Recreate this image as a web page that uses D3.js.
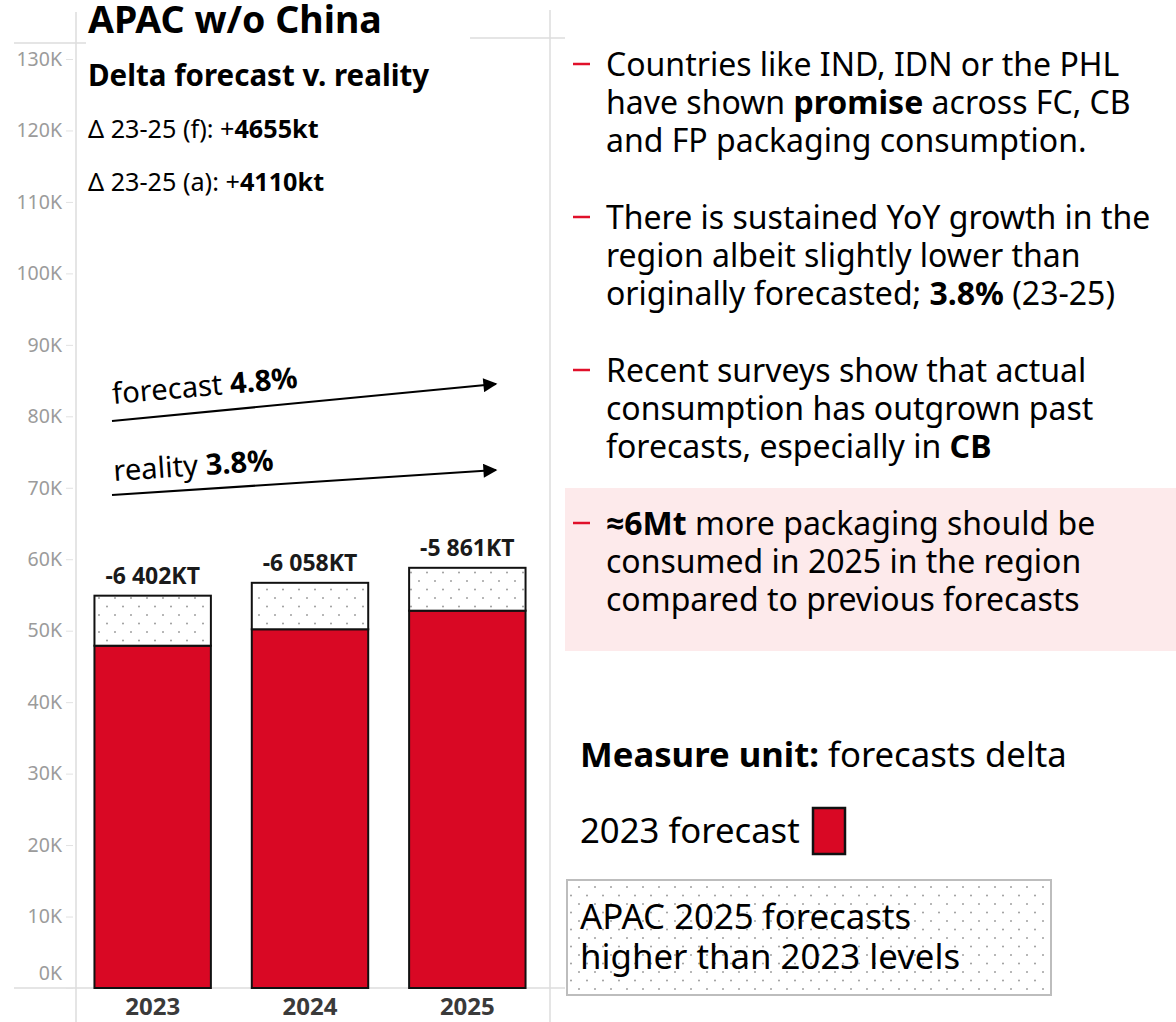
<!DOCTYPE html>
<html><head><meta charset="utf-8">
<script src="https://cdn.jsdelivr.net/npm/d3@7"></script>
<style>
body{margin:0;background:#fff}
svg{display:block}
text{font-family:"Noto Sans","Open Sans",sans-serif}
</style>
</head><body>
<svg id="chart" width="1176" height="1022"></svg>
<script>
// ---------- data ----------
const years = ["2023", "2024", "2025"];
const forecast2023 = [47900, 50200, 52800];          // red part (2023 forecast)
const higherThan2023 = [7000, 6500, 6000];           // dotted part (2025 forecasts above 2023)
const deltaLabels = ["-6 402KT", "-6 058KT", "-5 861KT"];
const yTickValues = [0,10000,20000,30000,40000,50000,60000,70000,80000,90000,100000,110000,120000,130000];
const yTickLabels = ["0K","10K","20K","30K","40K","50K","60K","70K","80K","90K","100K","110K","120K","130K"];
const growthNames = ["forecast", "reality"];
const growthRates = ["4.8%", "3.8%"];

const titleText = "APAC w/o China";
const subtitleText = "Delta forecast v. reality";
const deltaForecast = "4655kt";
const deltaActual = "4110kt";

const bullets = [
  [[["Countries like IND, IDN or the PHL",0]],
   [["have shown ",0],["promise",1],[" across FC, CB",0]],
   [["and FP packaging consumption.",0]]],
  [[["There is sustained YoY growth in the",0]],
   [["region albeit slightly lower than",0]],
   [["originally forecasted; ",0],["3.8%",1],[" (23-25)",0]]],
  [[["Recent surveys show that actual",0]],
   [["consumption has outgrown past",0]],
   [["forecasts, especially in ",0],["CB",1]]],
  [[["\u22486Mt",1],[" more packaging should be",0]],
   [["consumed in 2025 in the region",0]],
   [["compared to previous forecasts",0]]]
];

// ---------- setup ----------
const RED = "#d90824";
const svg = d3.select("#chart");
const defs = svg.append("defs");
const pat = defs.append("pattern").attr("id","dots").attr("patternUnits","userSpaceOnUse")
  .attr("width",16).attr("height",17);
pat.append("rect").attr("width",16).attr("height",17).attr("fill","#fff");
pat.append("circle").attr("cx",3).attr("cy",3).attr("r",0.95).attr("fill","#999");
pat.append("circle").attr("cx",11).attr("cy",11.5).attr("r",0.95).attr("fill","#999");

defs.append("marker").attr("id","arrow").attr("viewBox","0 0 10 10")
  .attr("refX",9).attr("refY",5).attr("markerWidth",7.5).attr("markerHeight",7)
  .attr("markerUnits","strokeWidth").attr("orient","auto")
  .append("path").attr("d","M0,0 L10,5 L0,10 Z").attr("fill","#000");

const x = d3.scaleBand().domain(years).range([74, 546]).paddingInner(0.26).paddingOuter(0.13);
const y = d3.scaleLinear().domain([0, 130000]).range([988, 59]);

// frame lines
const frame = svg.append("g").attr("stroke","#dcdcdc").attr("stroke-width",1.5);
frame.append("line").attr("x1",76).attr("x2",76).attr("y1",12).attr("y2",1022);
frame.append("line").attr("x1",550).attr("x2",550).attr("y1",10).attr("y2",1022);
frame.append("line").attr("x1",14).attr("x2",86).attr("y1",43).attr("y2",43);
frame.append("line").attr("x1",470).attr("x2",565).attr("y1",38).attr("y2",38);
frame.append("line").attr("x1",14).attr("x2",565).attr("y1",y(0)).attr("y2",y(0));

// y axis
const yAxis = d3.axisLeft(y).tickValues(yTickValues)
  .tickFormat((d,i)=>yTickLabels[i]).tickSize(7).tickPadding(4);
const ga = svg.append("g").attr("transform","translate(73,0)").call(yAxis);
ga.select(".domain").remove();
ga.selectAll(".tick line").attr("stroke","#e2e2e2");
ga.selectAll(".tick text").attr("fill","#9b9b9b").attr("font-size",19.5)
  .style("font-family","'Noto Sans',sans-serif")
  .attr("dy",(d)=> d===0 ? "-0.45em" : "0.32em");

// bars
const bars = svg.append("g");
bars.selectAll("rect.red").data(years).join("rect").attr("class","red")
  .attr("x",d=>x(d)).attr("width",x.bandwidth())
  .attr("y",(d,i)=>y(forecast2023[i])).attr("height",(d,i)=>y(0)-y(forecast2023[i]))
  .attr("fill",RED).attr("stroke","#111").attr("stroke-width",2);
bars.selectAll("rect.dot").data(years).join("rect").attr("class","dot")
  .attr("x",d=>x(d)).attr("width",x.bandwidth())
  .attr("y",(d,i)=>y(forecast2023[i]+higherThan2023[i]))
  .attr("height",(d,i)=>y(forecast2023[i])-y(forecast2023[i]+higherThan2023[i]))
  .attr("fill","url(#dots)").attr("stroke","#111").attr("stroke-width",2);
bars.selectAll("text.lab").data(years).join("text").attr("class","lab")
  .attr("x",d=>x(d)+x.bandwidth()/2)
  .attr("y",(d,i)=>y(forecast2023[i]+higherThan2023[i])-12)
  .attr("text-anchor","middle").attr("font-weight","bold").attr("font-size",23)
  .attr("fill","#1a1a1a").text((d,i)=>deltaLabels[i]);

// x axis labels
const xAxis = d3.axisBottom(x).tickSize(0).tickPadding(8);
const gx = svg.append("g").attr("transform",`translate(0,${y(0)})`).call(xAxis);
gx.select(".domain").remove();
gx.selectAll(".tick text").attr("font-size",24).attr("font-weight","bold")
  .attr("fill","#3a3a3a").attr("dy","0.78em").style("font-family","'Noto Sans',sans-serif");

// title block
svg.append("text").attr("x",88).attr("y",33).attr("font-size",37.5).attr("font-weight","bold")
  .attr("fill","#000").text(titleText);
svg.append("text").attr("x",88).attr("y",86).attr("font-size",29.5).attr("font-weight","bold")
  .attr("fill","#000").text(subtitleText);
const d1 = svg.append("text").attr("x",88).attr("y",138).attr("font-size",25.2).attr("fill","#000");
d1.append("tspan").text("\u0394 23-25 (f): +");
d1.append("tspan").attr("font-weight","bold").text(deltaForecast);
const d2 = svg.append("text").attr("x",88).attr("y",191).attr("font-size",25.2).attr("fill","#000");
d2.append("tspan").text("\u0394 23-25 (a): +");
d2.append("tspan").attr("font-weight","bold").text(deltaActual);

// growth arrows (annotations)
const arrows = [
  {x1:112,y1:421,x2:496,y2:384, tx:113, ty:404, ang:-5},
  {x1:112,y1:495,x2:496,y2:470, tx:114, ty:481, ang:-3.8}
];
arrows.forEach((a,i)=>{
  svg.append("line").attr("x1",a.x1).attr("y1",a.y1).attr("x2",a.x2).attr("y2",a.y2)
    .attr("stroke","#000").attr("stroke-width",2).attr("marker-end","url(#arrow)");
  const t = svg.append("text").attr("transform",`translate(${a.tx},${a.ty}) rotate(${a.ang})`)
    .attr("font-size",29.2).attr("fill","#000");
  t.append("tspan").text(growthNames[i] + " ");
  t.append("tspan").attr("font-weight","bold").text(growthRates[i]);
});

// right side: pink highlight box
svg.append("rect").attr("x",565).attr("y",488).attr("width",611).attr("height",163).attr("fill","#fdeaeb");

// bullets
const bulletTop = [76, 229, 382, 535];
bullets.forEach((b,bi)=>{
  svg.append("line").attr("x1",573).attr("x2",590).attr("y1",bulletTop[bi]-12).attr("y2",bulletTop[bi]-12)
    .attr("stroke","#e0102a").attr("stroke-width",2.5);
  b.forEach((line,li)=>{
    const t = svg.append("text").attr("x",606).attr("y",bulletTop[bi]+li*38)
      .attr("font-size",32).attr("fill","#000");
    line.forEach(seg=>{
      t.append("tspan").attr("font-weight",seg[1]?"bold":"normal").text(seg[0]);
    });
  });
});

// legend
const mu = svg.append("text").attr("x",580).attr("y",767).attr("font-size",34.7).attr("fill","#000");
mu.append("tspan").attr("font-weight","bold").text("Measure unit:");
mu.append("tspan").text(" forecasts delta");
svg.append("text").attr("x",580).attr("y",843).attr("font-size",34.7).attr("fill","#000").text("2023 forecast");
svg.append("rect").attr("x",813).attr("y",808).attr("width",32).attr("height",46)
  .attr("fill",RED).attr("stroke","#111").attr("stroke-width",2.5);
svg.append("rect").attr("x",567).attr("y",880).attr("width",484).attr("height",115)
  .attr("fill","url(#dots)").attr("stroke","#bdbdbd").attr("stroke-width",2);
svg.append("text").attr("x",580).attr("y",929).attr("font-size",34.8).attr("fill","#000").text("APAC 2025 forecasts");
svg.append("text").attr("x",580).attr("y",969).attr("font-size",34.8).attr("fill","#000").text("higher than 2023 levels");
</script>
</body></html>
